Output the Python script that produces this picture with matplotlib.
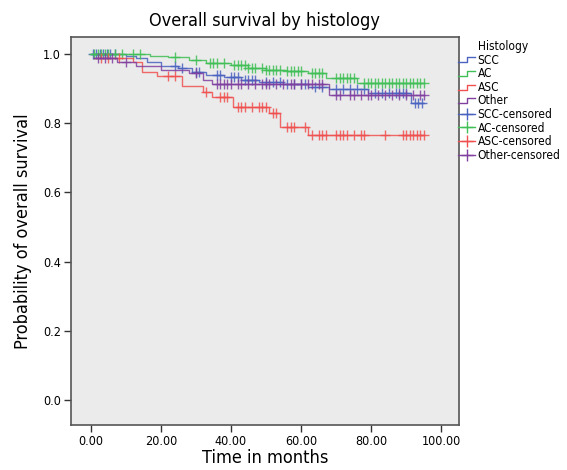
import numpy as np
import matplotlib.pyplot as plt
from matplotlib.lines import Line2D
from matplotlib.legend_handler import HandlerBase

# step curves: (time of change, survival after change)
scc_t = [0, 10, 13, 16, 20, 25, 29, 33, 38, 43, 48, 55, 62, 68, 79, 91.5]
scc_s = [1.0, 0.994, 0.988, 0.977, 0.965, 0.96, 0.948, 0.94, 0.932, 0.925, 0.919, 0.912, 0.905, 0.90, 0.887, 0.857]
scc_c = [0.5, 1.5, 2.5, 3.5, 4.5, 5.5, 7, 24, 26, 30, 31, 36, 37, 40, 41, 42, 44, 45, 46, 47, 50, 52, 54, 56, 58,
         60, 61, 64, 66, 70, 72, 74, 76, 78, 81, 83, 85, 87, 88, 89, 90, 92.5, 93.5, 94.5]

ac_t = [0, 17, 22, 28, 33, 40, 45, 50, 56, 62, 67, 76]
ac_s = [1.0, 0.995, 0.99, 0.983, 0.975, 0.968, 0.96, 0.955, 0.95, 0.945, 0.93, 0.916]
ac_c = [1, 2, 3, 4, 5, 7, 9, 12, 14, 24, 30, 34, 35, 36, 38, 41, 42, 43, 44, 45, 46, 47, 49, 50, 51, 52, 53, 54,
        56, 57, 58, 59, 60, 63, 64, 65, 66, 70, 71, 72, 73, 74, 75, 78, 79, 80, 81, 82, 83, 84, 85, 86, 87, 88,
        89, 90, 91, 92, 93, 94, 95]

asc_t = [1, 12, 14.5, 19, 26, 32, 34.5, 40.5, 51, 54, 62]
asc_s = [0.988, 0.977, 0.948, 0.935, 0.908, 0.89, 0.876, 0.848, 0.829, 0.79, 0.766]
asc_c = [3, 5, 8, 22, 24, 33, 37, 38, 39, 42, 43, 44, 46, 48, 49, 50, 52, 53, 56, 57, 58, 61, 63, 65, 66, 67,
         70, 71, 72, 73, 75, 77, 78, 84, 89, 90, 91, 92, 93, 94, 95]

oth_t = [1, 7.5, 13, 20, 28, 32, 34.5, 68]
oth_s = [0.988, 0.977, 0.965, 0.954, 0.945, 0.925, 0.913, 0.88]
oth_c = [2, 4, 6, 10, 30, 36, 37, 38, 39, 40, 42, 43, 45, 47, 49, 50, 51, 53, 55, 57, 58, 60, 62, 63, 65, 66,
         70, 71, 74, 75, 77, 79, 80, 82, 84, 86, 88, 90, 92, 94, 95]

groups = ["SCC", "AC", "ASC", "Other"]
colors = ["#4a62c0", "#3fbf55", "#f0504f", "#8040a0"]
end_time = 95

plt.rcParams['font.family'] = ['DejaVu Sans']
plt.rcParams['font.stretch'] = 'condensed'

fig = plt.figure(figsize=(5.67, 4.70), dpi=100)
ax = fig.add_axes([0.125, 0.0957, 0.6845, 0.8256])
ax.set_facecolor("#ebebeb")

data = [(scc_t, scc_s, scc_c), (ac_t, ac_s, ac_c), (asc_t, asc_s, asc_c), (oth_t, oth_s, oth_c)]
for (t, s, c), col in zip(data, colors):
    tt = list(t) + [end_time]
    ss = list(s) + [s[-1]]
    ax.step(tt, ss, where="post", color=col, lw=1.0, alpha=0.85)
    c = np.array(c, dtype=float)
    idx = np.searchsorted(np.array(t), c, side="right") - 1
    idx = np.clip(idx, 0, None)
    cy = np.array(s)[idx]
    ax.plot(c, cy, ls="none", marker="+", ms=7, mew=1.0, color=col, alpha=0.85)

ax.set_xlim(-5.7, 105.1)
ax.set_ylim(-0.072, 1.049)
ax.set_xticks([0, 20, 40, 60, 80, 100])
ax.set_xticklabels(["0.00", "20.00", "40.00", "60.00", "80.00", "100.00"])
ax.set_yticks([0, 0.2, 0.4, 0.6, 0.8, 1.0])
ax.set_yticklabels(["0.0", "0.2", "0.4", "0.6", "0.8", "1.0"])
ax.tick_params(direction="out", length=5, width=1, labelsize=9, color="#333333", pad=2)
for sp in ax.spines.values():
    sp.set_color("#555555")
    sp.set_linewidth(1.2)

ax.set_title("Overall survival by histology", fontsize=13, pad=8)
ax.set_xlabel("Time in months", fontsize=13, labelpad=1)
ax.set_ylabel("Probability of overall survival", fontsize=13, labelpad=8)


class StepHandler(HandlerBase):
    def create_artists(self, legend, orig_handle, xd, yd, w, h, fontsize, trans):
        xs = np.array([0, 0.5, 0.5, 1.0]) * w - xd
        ys = np.array([0.15, 0.15, 0.75, 0.75]) * h - yd
        ln = Line2D(xs, ys, color=orig_handle.get_color(), lw=1.0, transform=trans)
        return [ln]


handles = []
labels = []
for g, col in zip(groups, colors):
    handles.append(Line2D([], [], color=col))
    labels.append(g)
for g, col in zip(groups, colors):
    handles.append(Line2D([], [], color=col, marker="+", ms=9, lw=1.0))
    labels.append(g + "-censored")

hmap = {h: StepHandler() for h in handles[:4]}
leg = fig.legend(handles, labels, handler_map=hmap, title="Histology", loc="upper left",
                 bbox_to_anchor=(0.800, 0.925), frameon=False, fontsize=8.6, title_fontsize=8.6,
                 handlelength=1.4, handletextpad=0.2, labelspacing=0.05, borderaxespad=0)
leg._legend_box.align = "left"
leg.get_title().set_position((20, 0))

fig.savefig("out.png", dpi=100)
